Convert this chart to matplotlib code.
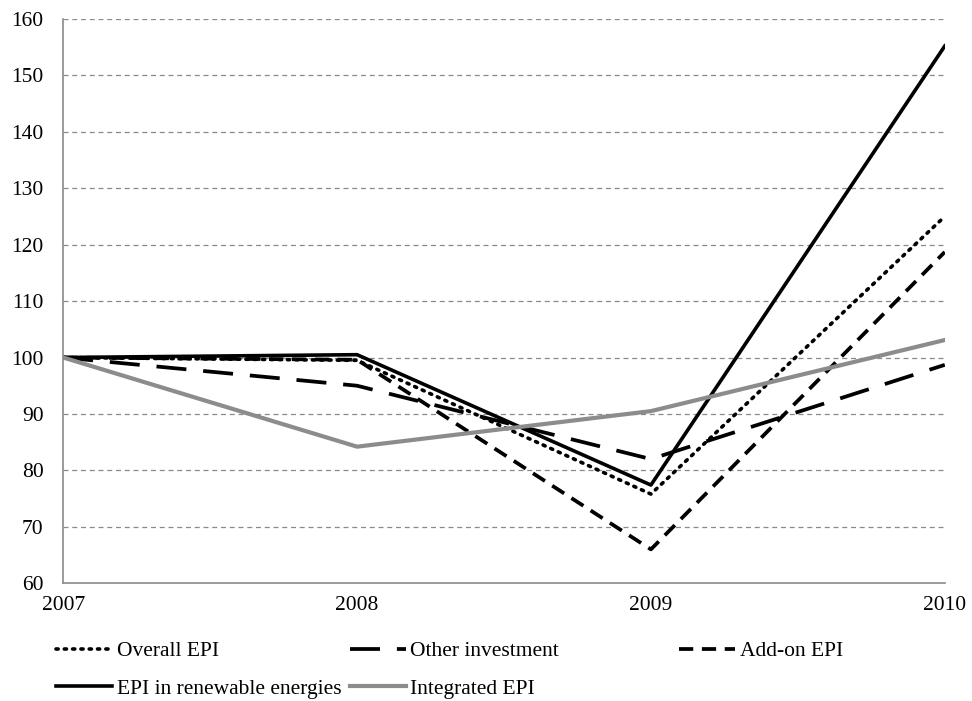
import matplotlib.pyplot as plt

plt.rcParams['font.family'] = ['Liberation Serif', 'DejaVu Serif']

years = [2007, 2008, 2009, 2010]
overall_epi = [100, 99.5, 75.8, 125.0]
other_investment = [100, 95.0, 82.0, 98.7]
addon_epi = [100, 99.6, 66.0, 118.7]
renewable_epi = [100, 100.5, 77.4, 155.2]
integrated_epi = [100, 84.2, 90.5, 103.1]

fig = plt.figure(figsize=(9.72, 7.01), dpi=100)
ax = fig.add_axes([0.065, 0.168, 0.907, 0.805])

l_overall, = ax.plot(years, overall_epi, color='black', lw=2.6, linestyle=(0, (0.6, 1.7)),
                     dash_capstyle='round', label='Overall EPI')
l_other, = ax.plot(years, other_investment, color='black', lw=2.7, linestyle=(0, (8, 4.5)),
                   label='Other investment')
l_addon, = ax.plot(years, addon_epi, color='black', lw=2.7, linestyle=(0, (3.8, 2.3)),
                   label='Add-on EPI')
l_ren, = ax.plot(years, renewable_epi, color='black', lw=2.6, label='EPI in renewable energies')
l_int, = ax.plot(years, integrated_epi, color='#8c8c8c', lw=3, label='Integrated EPI')

ax.set_xlim(2007, 2010)
ax.set_ylim(60, 160)
ax.set_xticks(years)
ax.set_yticks(range(60, 161, 10))
ax.tick_params(axis='both', length=0, labelsize=15.5)
ax.tick_params(axis='y', pad=14)
ax.tick_params(axis='x', pad=9)

for y in range(70, 161, 10):
    ax.axhline(y, color='#8a8a8a', lw=0.9, linestyle=(0, (4, 3)), zorder=0)

for s in ['top', 'right']:
    ax.spines[s].set_visible(False)
for s in ['left', 'bottom']:
    ax.spines[s].set_color('#8a8a8a')
    ax.spines[s].set_linewidth(1.2)

# legend in three columns, placed by hand like the original
cols = [([l_overall, l_ren], 0.058), ([l_other, l_int], 0.360), ([l_addon], 0.699)]
for handles, xpos in cols:
    fig.legend(handles=handles, loc='upper left', bbox_to_anchor=(xpos, 0.085),
               frameon=False, fontsize=15.5, handlelength=2.6, handletextpad=0.2,
               labelspacing=0.8, borderaxespad=0, borderpad=0)

fig.savefig('out.png', dpi=100)
